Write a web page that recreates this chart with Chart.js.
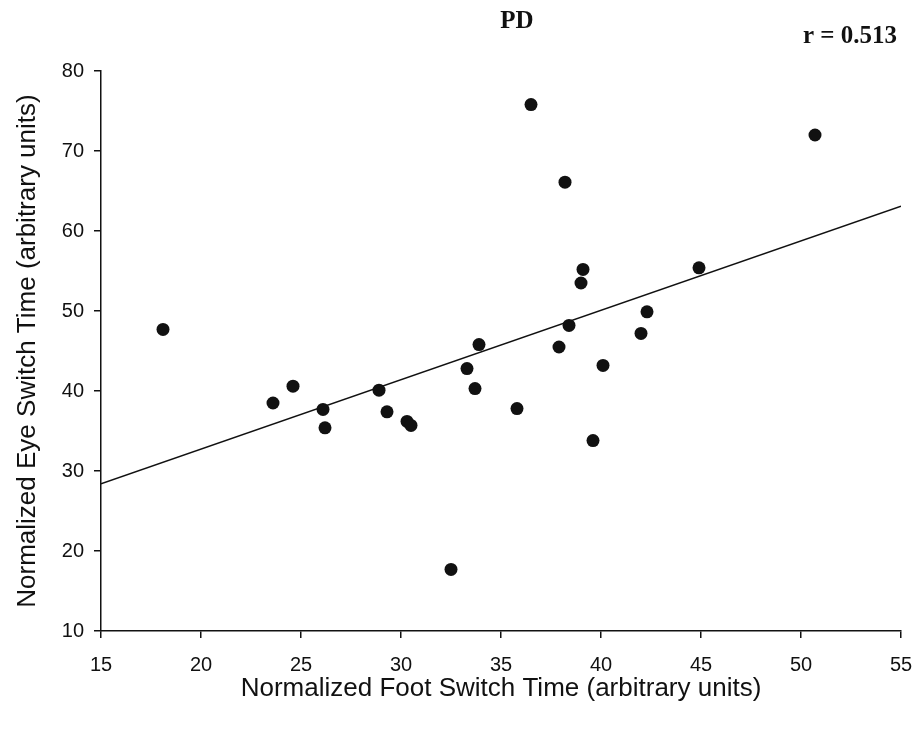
<!DOCTYPE html>
<html>
<head>
<meta charset="utf-8">
<script src="https://cdn.jsdelivr.net/npm/chart.js@4.4.1/dist/chart.umd.min.js"></script>
<style>
    html, body { margin: 0; padding: 0; background: #fff; }
    #wrap { width: 917px; height: 731px; position: relative; }
</style>
</head>
<body>
<div id="wrap"><canvas id="chartPD"></canvas></div>
<script>
(function () {
    'use strict';

    // one point per subject
    var footTime = [18.1, 23.6, 24.6, 26.1, 26.2, 28.9, 29.3, 30.3, 30.5, 32.5, 33.3, 33.7, 33.9,
        35.8, 36.5, 37.9, 38.2, 38.4, 39.1, 39.0, 39.6, 40.1, 42.0, 42.3, 44.9, 50.7];
    var eyeTime = [47.7, 38.5, 40.6, 37.7, 35.4, 40.1, 37.4, 36.2, 35.7, 17.7, 42.8, 40.3, 45.8,
        37.8, 75.8, 45.5, 66.1, 48.2, 55.2, 53.5, 33.8, 43.2, 47.2, 49.9, 55.4, 72.0];

    // regression line ends
    var fitX = [15, 55];
    var fitY = [28.4, 63.1];

    var titleText = 'PD';
    var corrText = 'r = 0.513';

    var ink = '#111111';

    function pairs(xs, ys) {
        return xs.map(function (x, i) { return { x: x, y: ys[i] }; });
    }

    var headerText = {
        id: 'headerText',
        afterDraw: function (chart) {
            var ctx = chart.ctx;
            ctx.save();
            ctx.fillStyle = ink;
            ctx.font = 'bold 25px "Liberation Serif", "Times New Roman", serif';
            ctx.textAlign = 'center';
            ctx.textBaseline = 'middle';
            ctx.fillText(titleText, 517, 22);
            ctx.fillText(corrText, 850, 37);
            ctx.restore();
        }
    };

    var tickFont = { family: '"Liberation Sans", Arial, sans-serif', size: 20 };
    var titleFont = { family: '"Liberation Sans", Arial, sans-serif', size: 26 };

    new Chart(document.getElementById('chartPD'), {
        type: 'scatter',
        data: {
            datasets: [
                {
                    label: 'Subjects',
                    data: pairs(footTime, eyeTime),
                    backgroundColor: ink,
                    borderColor: ink,
                    pointRadius: 6.5,
                    pointHoverRadius: 6.5,
                    borderWidth: 0,
                },
                {
                    label: 'Fit',
                    data: pairs(fitX, fitY),
                    showLine: true,
                    borderColor: ink,
                    borderWidth: 1.5,
                    pointRadius: 0,
                    fill: false,
                },
            ],
        },
        options: {
            responsive: true,
            maintainAspectRatio: false,
            animation: false,
            layout: { padding: { top: 71, right: 16, left: 0, bottom: 0 } },
            plugins: {
                legend: { display: false },
                tooltip: { enabled: false },
                title: { display: false },
            },
            scales: {
                x: {
                    type: 'linear',
                    min: 15,
                    max: 55,
                    ticks: { stepSize: 5, color: ink, font: tickFont, padding: 15, maxRotation: 0 },
                    grid: { drawOnChartArea: false, drawTicks: true, tickLength: 7, color: ink, lineWidth: 1.5 },
                    border: { display: true, color: ink, width: 1.5 },
                    title: {
                        display: true,
                        text: 'Normalized Foot Switch Time (arbitrary units)',
                        color: ink,
                        font: titleFont,
                        padding: { top: 0, bottom: 27 },
                    },
                    afterFit: function (scale) {
                        scale.height = 100;
                        scale.paddingLeft = 0;
                        scale.paddingRight = 0;
                    },
                },
                y: {
                    type: 'linear',
                    min: 10,
                    max: 80,
                    ticks: { stepSize: 10, color: ink, font: tickFont, padding: 10 },
                    grid: { drawOnChartArea: false, drawTicks: true, tickLength: 7, color: ink, lineWidth: 1.5 },
                    border: { display: true, color: ink, width: 1.5 },
                    title: {
                        display: true,
                        text: 'Normalized Eye Switch Time (arbitrary units)',
                        color: ink,
                        font: titleFont,
                        padding: { top: 12, bottom: 0 },
                    },
                    afterFit: function (scale) {
                        scale.width = 101;
                        scale.paddingTop = 0;
                        scale.paddingBottom = 0;
                    },
                },
            },
        },
        plugins: [headerText],
    });
})();
</script>
</body>
</html>
